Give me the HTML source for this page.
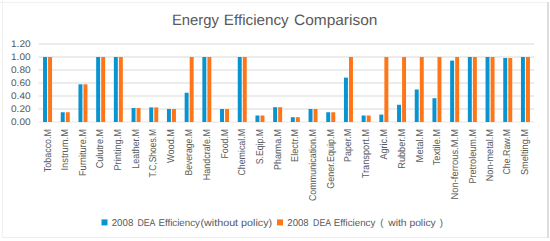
<!DOCTYPE html><html><head><meta charset="utf-8"><style>html,body{margin:0;padding:0;background:#fff;}svg{display:block;}text{font-family:"Liberation Sans",sans-serif;fill:#595959;text-rendering:geometricPrecision;}</style></head><body>
<svg width="550" height="241" viewBox="0 0 550 241">
<rect x="0" y="0" width="550" height="241" fill="#fff"/>
<rect x="2" y="0" width="1" height="238" fill="#F1F1F1"/>
<rect x="0" y="2" width="547" height="1" fill="#F1F1F1"/>
<rect x="3" y="237" width="544" height="1" fill="#ECECEC"/>
<rect x="547" y="2" width="2" height="236" fill="#DEDEDE"/>
<rect x="6" y="5" width="1" height="232" fill="#FCFCFC"/>
<rect x="6" y="5" width="541" height="1" fill="#FCFCFC"/>
<text x="171.90" y="25.0" font-size="15" textLength="47.00" lengthAdjust="spacingAndGlyphs">Energy</text>
<text x="223.80" y="25.0" font-size="15" textLength="64.90" lengthAdjust="spacingAndGlyphs">Efficiency</text>
<text x="294.00" y="25.0" font-size="15" textLength="83.40" lengthAdjust="spacingAndGlyphs">Comparison</text>
<line x1="38.70" y1="122.00" x2="534.30" y2="122.00" stroke="#E6E6E6" stroke-width="1"/>
<text x="30.6" y="125.20" font-size="9.6" text-anchor="end" textLength="19.6" lengthAdjust="spacingAndGlyphs">0.00</text>
<line x1="38.70" y1="109.00" x2="534.30" y2="109.00" stroke="#D9D9D9" stroke-width="1"/>
<text x="30.6" y="112.20" font-size="9.6" text-anchor="end" textLength="19.6" lengthAdjust="spacingAndGlyphs">0.20</text>
<line x1="38.70" y1="96.00" x2="534.30" y2="96.00" stroke="#D9D9D9" stroke-width="1"/>
<text x="30.6" y="99.20" font-size="9.6" text-anchor="end" textLength="19.6" lengthAdjust="spacingAndGlyphs">0.40</text>
<line x1="38.70" y1="83.00" x2="534.30" y2="83.00" stroke="#D9D9D9" stroke-width="1"/>
<text x="30.6" y="86.20" font-size="9.6" text-anchor="end" textLength="19.6" lengthAdjust="spacingAndGlyphs">0.60</text>
<line x1="38.70" y1="70.00" x2="534.30" y2="70.00" stroke="#D9D9D9" stroke-width="1"/>
<text x="30.6" y="73.20" font-size="9.6" text-anchor="end" textLength="19.6" lengthAdjust="spacingAndGlyphs">0.80</text>
<line x1="38.70" y1="57.00" x2="534.30" y2="57.00" stroke="#D9D9D9" stroke-width="1"/>
<text x="30.6" y="60.20" font-size="9.6" text-anchor="end" textLength="19.6" lengthAdjust="spacingAndGlyphs">1.00</text>
<line x1="38.70" y1="44.00" x2="534.30" y2="44.00" stroke="#D9D9D9" stroke-width="1"/>
<text x="30.6" y="47.20" font-size="9.6" text-anchor="end" textLength="19.6" lengthAdjust="spacingAndGlyphs">1.20</text>
<rect x="43.06" y="57.00" width="3.96" height="65.00" fill="#0A93D1"/>
<rect x="48.09" y="57.00" width="3.96" height="65.00" fill="#FF7619"/>
<text transform="translate(50.75,129) rotate(-90)" x="0" y="0" font-size="10" text-anchor="end" textLength="43.2" lengthAdjust="spacingAndGlyphs">Tobacco.M</text>
<rect x="60.76" y="112.25" width="3.96" height="9.75" fill="#0A93D1"/>
<rect x="65.78" y="112.25" width="3.96" height="9.75" fill="#FF7619"/>
<text transform="translate(68.45,129) rotate(-90)" x="0" y="0" font-size="10" text-anchor="end" textLength="41.6" lengthAdjust="spacingAndGlyphs">Instrum.M</text>
<rect x="78.46" y="84.30" width="3.96" height="37.70" fill="#0A93D1"/>
<rect x="83.48" y="84.30" width="3.96" height="37.70" fill="#FF7619"/>
<text transform="translate(86.15,129) rotate(-90)" x="0" y="0" font-size="10" text-anchor="end" textLength="47.0" lengthAdjust="spacingAndGlyphs">Furniture.M</text>
<rect x="96.16" y="57.00" width="3.96" height="65.00" fill="#0A93D1"/>
<rect x="101.19" y="57.00" width="3.96" height="65.00" fill="#FF7619"/>
<text transform="translate(103.25,129) rotate(-90)" x="0" y="0" font-size="10" text-anchor="end" textLength="39.3" lengthAdjust="spacingAndGlyphs">Culutre.M</text>
<rect x="113.86" y="57.00" width="3.96" height="65.00" fill="#0A93D1"/>
<rect x="118.88" y="57.00" width="3.96" height="65.00" fill="#FF7619"/>
<text transform="translate(120.65,129) rotate(-90)" x="0" y="0" font-size="10" text-anchor="end" textLength="41.6" lengthAdjust="spacingAndGlyphs">Printing.M</text>
<rect x="131.56" y="108.03" width="3.96" height="13.97" fill="#0A93D1"/>
<rect x="136.59" y="108.03" width="3.96" height="13.97" fill="#FF7619"/>
<text transform="translate(139.25,129) rotate(-90)" x="0" y="0" font-size="10" text-anchor="end" textLength="39.7" lengthAdjust="spacingAndGlyphs">Leather.M</text>
<rect x="149.25" y="107.38" width="3.96" height="14.62" fill="#0A93D1"/>
<rect x="154.28" y="107.38" width="3.96" height="14.62" fill="#FF7619"/>
<text transform="translate(156.45,129) rotate(-90)" x="0" y="0" font-size="10" text-anchor="end" textLength="48.4" lengthAdjust="spacingAndGlyphs">T.C,Shoes.M</text>
<rect x="166.95" y="109.00" width="3.96" height="13.00" fill="#0A93D1"/>
<rect x="171.98" y="109.00" width="3.96" height="13.00" fill="#FF7619"/>
<text transform="translate(173.75,129) rotate(-90)" x="0" y="0" font-size="10" text-anchor="end" textLength="34.0" lengthAdjust="spacingAndGlyphs">Wood.M</text>
<rect x="184.65" y="92.75" width="3.96" height="29.25" fill="#0A93D1"/>
<rect x="189.68" y="57.00" width="3.96" height="65.00" fill="#FF7619"/>
<text transform="translate(192.35,129) rotate(-90)" x="0" y="0" font-size="10" text-anchor="end" textLength="46.6" lengthAdjust="spacingAndGlyphs">Beverage.M</text>
<rect x="202.36" y="57.00" width="3.96" height="65.00" fill="#0A93D1"/>
<rect x="207.39" y="57.00" width="3.96" height="65.00" fill="#FF7619"/>
<text transform="translate(210.05,129) rotate(-90)" x="0" y="0" font-size="10" text-anchor="end" textLength="51.2" lengthAdjust="spacingAndGlyphs">Handcrafe.M</text>
<rect x="220.06" y="109.00" width="3.96" height="13.00" fill="#0A93D1"/>
<rect x="225.09" y="109.00" width="3.96" height="13.00" fill="#FF7619"/>
<text transform="translate(227.75,129) rotate(-90)" x="0" y="0" font-size="10" text-anchor="end" textLength="29.5" lengthAdjust="spacingAndGlyphs">Food.M</text>
<rect x="237.75" y="57.00" width="3.96" height="65.00" fill="#0A93D1"/>
<rect x="242.78" y="57.00" width="3.96" height="65.00" fill="#FF7619"/>
<text transform="translate(245.45,129) rotate(-90)" x="0" y="0" font-size="10" text-anchor="end" textLength="46.6" lengthAdjust="spacingAndGlyphs">Chemical.M</text>
<rect x="255.45" y="115.50" width="3.96" height="6.50" fill="#0A93D1"/>
<rect x="260.49" y="115.50" width="3.96" height="6.50" fill="#FF7619"/>
<text transform="translate(263.15,129) rotate(-90)" x="0" y="0" font-size="10" text-anchor="end" textLength="35.2" lengthAdjust="spacingAndGlyphs">S.Eqip.M</text>
<rect x="273.15" y="107.18" width="3.96" height="14.82" fill="#0A93D1"/>
<rect x="278.19" y="107.18" width="3.96" height="14.82" fill="#FF7619"/>
<text transform="translate(280.85,129) rotate(-90)" x="0" y="0" font-size="10" text-anchor="end" textLength="40.9" lengthAdjust="spacingAndGlyphs">Pharma.M</text>
<rect x="290.85" y="117.19" width="3.96" height="4.81" fill="#0A93D1"/>
<rect x="295.88" y="117.19" width="3.96" height="4.81" fill="#FF7619"/>
<text transform="translate(297.95,129) rotate(-90)" x="0" y="0" font-size="10" text-anchor="end" textLength="32.9" lengthAdjust="spacingAndGlyphs">Electr.M</text>
<rect x="308.55" y="109.00" width="3.96" height="13.00" fill="#0A93D1"/>
<rect x="313.58" y="109.00" width="3.96" height="13.00" fill="#FF7619"/>
<text transform="translate(316.25,129) rotate(-90)" x="0" y="0" font-size="10" text-anchor="end" textLength="72.1" lengthAdjust="spacingAndGlyphs">Communication.M</text>
<rect x="326.25" y="112.25" width="3.96" height="9.75" fill="#0A93D1"/>
<rect x="331.29" y="112.25" width="3.96" height="9.75" fill="#FF7619"/>
<text transform="translate(333.95,129) rotate(-90)" x="0" y="0" font-size="10" text-anchor="end" textLength="59.8" lengthAdjust="spacingAndGlyphs">Gener.Equip.M</text>
<rect x="343.95" y="77.60" width="3.96" height="44.40" fill="#0A93D1"/>
<rect x="348.99" y="57.00" width="3.96" height="65.00" fill="#FF7619"/>
<text transform="translate(351.05,129) rotate(-90)" x="0" y="0" font-size="10" text-anchor="end" textLength="32.9" lengthAdjust="spacingAndGlyphs">Paper.M</text>
<rect x="361.65" y="115.50" width="3.96" height="6.50" fill="#0A93D1"/>
<rect x="366.69" y="115.50" width="3.96" height="6.50" fill="#FF7619"/>
<text transform="translate(369.35,129) rotate(-90)" x="0" y="0" font-size="10" text-anchor="end" textLength="49.3" lengthAdjust="spacingAndGlyphs">Transport.M</text>
<rect x="379.35" y="114.59" width="3.96" height="7.41" fill="#0A93D1"/>
<rect x="384.38" y="57.00" width="3.96" height="65.00" fill="#FF7619"/>
<text transform="translate(387.05,129) rotate(-90)" x="0" y="0" font-size="10" text-anchor="end" textLength="30.6" lengthAdjust="spacingAndGlyphs">Agric.M</text>
<rect x="397.05" y="104.78" width="3.96" height="17.23" fill="#0A93D1"/>
<rect x="402.08" y="57.00" width="3.96" height="65.00" fill="#FF7619"/>
<text transform="translate(404.75,129) rotate(-90)" x="0" y="0" font-size="10" text-anchor="end" textLength="39.7" lengthAdjust="spacingAndGlyphs">Rubber.M</text>
<rect x="414.75" y="89.50" width="3.96" height="32.50" fill="#0A93D1"/>
<rect x="419.79" y="57.00" width="3.96" height="65.00" fill="#FF7619"/>
<text transform="translate(423.35,129) rotate(-90)" x="0" y="0" font-size="10" text-anchor="end" textLength="33.4" lengthAdjust="spacingAndGlyphs">Metal.M</text>
<rect x="432.45" y="98.21" width="3.96" height="23.79" fill="#0A93D1"/>
<rect x="437.49" y="57.00" width="3.96" height="65.00" fill="#FF7619"/>
<text transform="translate(440.15,129) rotate(-90)" x="0" y="0" font-size="10" text-anchor="end" textLength="36.3" lengthAdjust="spacingAndGlyphs">Textile.M</text>
<rect x="450.15" y="60.58" width="3.96" height="61.42" fill="#0A93D1"/>
<rect x="455.19" y="57.00" width="3.96" height="65.00" fill="#FF7619"/>
<text transform="translate(457.85,129) rotate(-90)" x="0" y="0" font-size="10" text-anchor="end" textLength="70.5" lengthAdjust="spacingAndGlyphs">Non-ferrous.M.M</text>
<rect x="467.85" y="57.00" width="3.96" height="65.00" fill="#0A93D1"/>
<rect x="472.88" y="57.00" width="3.96" height="65.00" fill="#FF7619"/>
<text transform="translate(475.55,129) rotate(-90)" x="0" y="0" font-size="10" text-anchor="end" textLength="54.6" lengthAdjust="spacingAndGlyphs">Pretroleum.M</text>
<rect x="485.55" y="57.00" width="3.96" height="65.00" fill="#0A93D1"/>
<rect x="490.58" y="57.00" width="3.96" height="65.00" fill="#FF7619"/>
<text transform="translate(493.25,129) rotate(-90)" x="0" y="0" font-size="10" text-anchor="end" textLength="52.3" lengthAdjust="spacingAndGlyphs">Non-metal.M</text>
<rect x="503.25" y="57.97" width="3.96" height="64.03" fill="#0A93D1"/>
<rect x="508.28" y="57.97" width="3.96" height="64.03" fill="#FF7619"/>
<text transform="translate(510.35,129) rotate(-90)" x="0" y="0" font-size="10" text-anchor="end" textLength="45.5" lengthAdjust="spacingAndGlyphs">Che.Raw.M</text>
<rect x="520.96" y="57.00" width="3.96" height="65.00" fill="#0A93D1"/>
<rect x="525.99" y="57.00" width="3.96" height="65.00" fill="#FF7619"/>
<text transform="translate(527.85,129) rotate(-90)" x="0" y="0" font-size="10" text-anchor="end" textLength="46.1" lengthAdjust="spacingAndGlyphs">Smelting.M</text>
<rect x="101.50" y="219.4" width="6" height="6" fill="#0A93D1"/>
<rect x="277.00" y="219.4" width="6" height="6" fill="#FF7619"/>
<text x="111.70" y="225.60" font-size="9.90" textLength="21.60" lengthAdjust="spacingAndGlyphs">2008</text>
<text x="137.40" y="225.60" font-size="9.90" textLength="18.00" lengthAdjust="spacingAndGlyphs">DEA</text>
<text x="158.40" y="225.60" font-size="9.90" textLength="41.60" lengthAdjust="spacingAndGlyphs">Efficiency</text>
<text x="200.50" y="225.60" font-size="9.90" textLength="71.60" lengthAdjust="spacingAndGlyphs">(without policy)</text>
<text x="287.30" y="225.60" font-size="9.90" textLength="21.40" lengthAdjust="spacingAndGlyphs">2008</text>
<text x="313.10" y="225.60" font-size="9.90" textLength="18.00" lengthAdjust="spacingAndGlyphs">DEA</text>
<text x="333.80" y="225.60" font-size="9.90" textLength="41.60" lengthAdjust="spacingAndGlyphs">Efficiency</text>
<text x="380.30" y="225.60" font-size="9.90" textLength="3.20" lengthAdjust="spacingAndGlyphs">(</text>
<text x="388.20" y="225.60" font-size="9.90" textLength="47.60" lengthAdjust="spacingAndGlyphs">with policy</text>
<text x="439.80" y="225.60" font-size="9.90" textLength="3.20" lengthAdjust="spacingAndGlyphs">)</text>
</svg></body></html>
